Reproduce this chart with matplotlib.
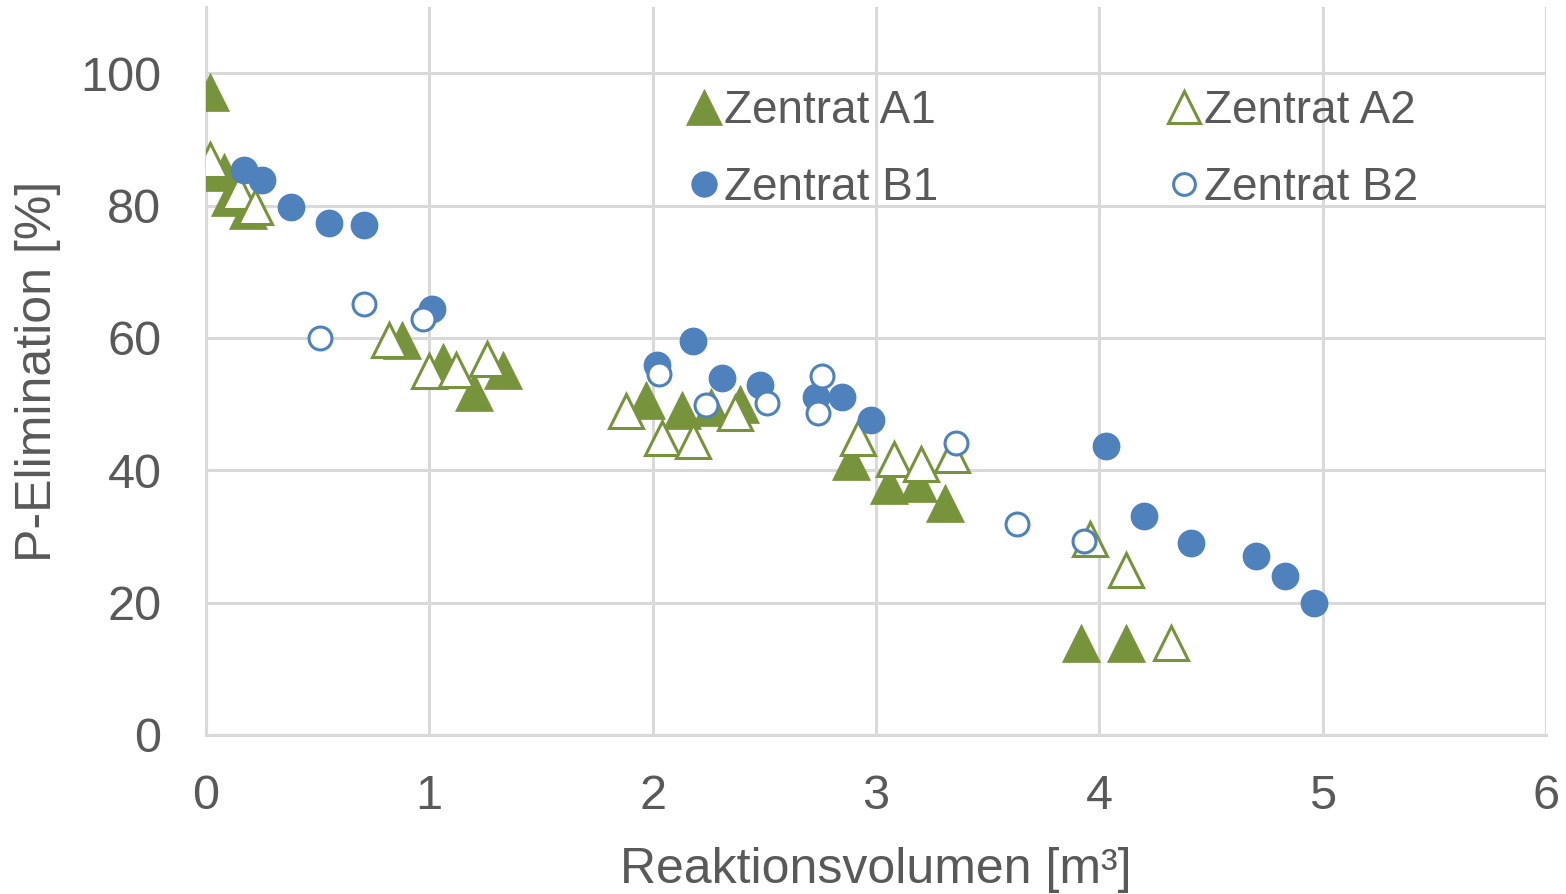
import matplotlib.pyplot as plt

plt.rcParams['font.family'] = ['Liberation Sans', 'DejaVu Sans']

# Zentrat A1 (filled triangles)
a1_x = [0.02, 0.03, 0.08, 0.11, 0.19, 0.88, 1.06, 1.20, 1.33,
        1.97, 2.13, 2.26, 2.39, 2.89, 3.06, 3.19, 3.31, 3.92, 4.12]
a1_y = [97.1, 85.5, 85.0, 81.3, 79.3, 59.7, 56.3, 51.8, 55.1,
        50.6, 49.1, 49.6, 50.0, 41.4, 37.8, 38.0, 35.0, 13.9, 13.9]

# Zentrat A2 (open triangles)
a2_x = [0.02, 0.15, 0.22, 0.82, 1.00, 1.12, 1.26, 1.88, 2.04, 2.18,
        2.37, 2.92, 3.08, 3.20, 3.34, 3.96, 4.12, 4.32]
a2_y = [86.9, 82.0, 79.8, 59.7, 55.0, 55.1, 56.8, 48.9, 44.9, 44.4,
        48.6, 44.9, 41.7, 41.0, 42.3, 29.6, 24.9, 13.9]

# Zentrat B1 (filled circles)
b1_x = [0.17, 0.25, 0.38, 0.55, 0.71, 1.01, 2.02, 2.18, 2.31, 2.48,
        2.73, 2.85, 2.98, 4.03, 4.20, 4.41, 4.70, 4.83, 4.96]
b1_y = [85.3, 83.8, 79.8, 77.4, 77.1, 64.4, 55.9, 59.6, 53.9, 52.9,
        51.1, 51.1, 47.6, 43.6, 33.1, 29.0, 27.0, 24.0, 20.0]

# Zentrat B2 (open circles)
b2_x = [0.51, 0.71, 0.97, 2.03, 2.24, 2.51, 2.74, 2.76, 3.36, 3.63, 3.93]
b2_y = [60.0, 65.1, 62.8, 54.6, 49.8, 50.1, 48.6, 54.2, 44.1, 31.9, 29.3]

green = '#77933C'
blue = '#4F81BD'
txt = '#595959'
grid = '#D9D9D9'

fig = plt.figure(figsize=(15.66, 8.94), dpi=100)
ax = fig.add_axes([0.1315, 0.1779, 0.8557, 0.8143])

ax.plot(a1_x, a1_y, ls='none', marker='^', ms=27, mfc=green, mec=green, mew=0.5,
        label='Zentrat A1', zorder=3)
ax.plot(a2_x, a2_y, ls='none', marker='^', ms=24, mfc='white', mec=green, mew=2.2,
        label='Zentrat A2', zorder=3)
ax.plot(b1_x, b1_y, ls='none', marker='o', ms=20, mfc=blue, mec=blue, mew=0,
        label='Zentrat B1', zorder=3)
ax.plot(b2_x, b2_y, ls='none', marker='o', ms=16.5, mfc='white', mec=blue, mew=2.2,
        label='Zentrat B2', zorder=3)

ax.set_xlim(0, 6)
ax.set_ylim(0, 110)
ax.set_xticks(range(0, 7))
ax.set_yticks(range(0, 101, 20))
ax.grid(True, color=grid, lw=2.2)
ax.set_axisbelow(True)
for s in ['top', 'right']:
    ax.spines[s].set_visible(False)
ax.spines['left'].set_color(grid)
ax.spines['left'].set_linewidth(2.2)
ax.spines['bottom'].set_color(grid)
ax.spines['bottom'].set_linewidth(2.2)
ax.tick_params(length=0, labelsize=35, colors=txt)
ax.tick_params(axis='y', pad=32)
ax.tick_params(axis='x', pad=28)

ax.set_xlabel('Reaktionsvolumen [m³]', fontsize=36, color=txt, labelpad=20)
ax.set_ylabel('P-Elimination [%]', fontsize=36, color=txt, labelpad=14)

h, l = ax.get_legend_handles_labels()
order = [0, 2, 1, 3]
ax.legend([h[i] for i in order], [l[i] for i in order], ncol=2, frameon=False,
          loc='upper left', bbox_to_anchor=(0.33, 0.944), fontsize=33,
          labelcolor=txt, handlelength=0.65, handletextpad=0.1,
          columnspacing=5.05, labelspacing=0.72, markerscale=0.95)

fig.savefig('out.png', dpi=100)
